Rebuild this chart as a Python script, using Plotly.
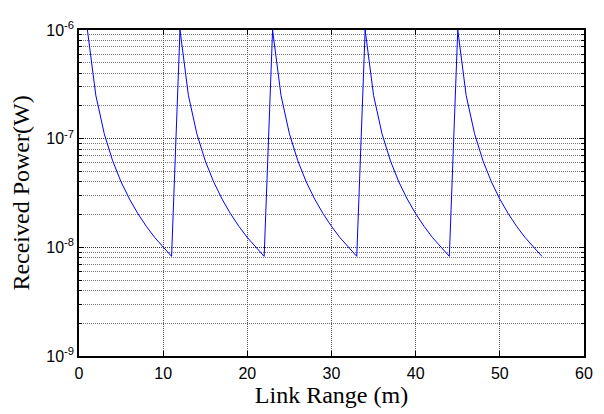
import plotly.graph_objects as go

# Link range (m)
link_range = list(range(1, 56))

# Received power (W): five identical decaying segments
received_power = [
    1.0e-6, 2.5e-7, 1.11e-7, 6.25e-8, 4.0e-8, 2.78e-8, 2.04e-8, 1.56e-8, 1.23e-8, 1.0e-8, 8.26e-9,
    1.0e-6, 2.5e-7, 1.11e-7, 6.25e-8, 4.0e-8, 2.78e-8, 2.04e-8, 1.56e-8, 1.23e-8, 1.0e-8, 8.26e-9,
    1.0e-6, 2.5e-7, 1.11e-7, 6.25e-8, 4.0e-8, 2.78e-8, 2.04e-8, 1.56e-8, 1.23e-8, 1.0e-8, 8.26e-9,
    1.0e-6, 2.5e-7, 1.11e-7, 6.25e-8, 4.0e-8, 2.78e-8, 2.04e-8, 1.56e-8, 1.23e-8, 1.0e-8, 8.26e-9,
    1.0e-6, 2.5e-7, 1.11e-7, 6.25e-8, 4.0e-8, 2.78e-8, 2.04e-8, 1.56e-8, 1.23e-8, 1.0e-8, 8.26e-9,
]

x_ticks = [0, 10, 20, 30, 40, 50, 60]
y_ticks = [1e-9, 1e-8, 1e-7, 1e-6]
y_tick_labels = ["10<sup>-9</sup>", "10<sup>-8</sup>", "10<sup>-7</sup>", "10<sup>-6</sup>"]
y_minor = [m * 10.0 ** e for e in (-9, -8, -7) for m in range(2, 10)]

fig = go.Figure()
fig.add_trace(go.Scatter(
    x=link_range, y=received_power, mode="lines",
    line=dict(color="#0000ff", width=1),
    showlegend=False,
))

tick_font = dict(family="Liberation Sans, Arial, sans-serif", size=16, color="black")
title_font = dict(family="Liberation Serif, Times New Roman, serif", size=24, color="black")

# page body has an 8px margin, so the figure is sized to fit the window
fig.update_layout(
    width=596, height=406,
    margin=dict(l=69, r=11, t=14, b=55),
    paper_bgcolor="white", plot_bgcolor="white",
)

fig.update_xaxes(
    range=[0, 60], tickmode="array", tickvals=x_ticks,
    ticks="inside", ticklen=5, tickcolor="black", tickwidth=1,
    showline=True, linecolor="black", linewidth=1.5, mirror="ticks",
    showgrid=True, gridcolor="#555555", gridwidth=1, griddash="1px,1px",
    zeroline=False, tickfont=tick_font, ticklabelstandoff=2,
    title=dict(text="Link Range (m)", font=title_font, standoff=4),
)

fig.update_yaxes(
    type="log", range=[-9, -6], tickmode="array", tickvals=y_ticks, ticktext=y_tick_labels,
    ticks="inside", ticklen=5, tickcolor="black", tickwidth=1,
    showline=True, linecolor="black", linewidth=1.5, mirror="ticks",
    showgrid=True, gridcolor="#333333", gridwidth=1, griddash="1px,1px",
    minor=dict(tickmode="array", tickvals=y_minor, ticks="inside", ticklen=3,
               tickcolor="black", showgrid=True, gridcolor="#777777",
               griddash="1px,1px", gridwidth=1),
    zeroline=False, tickfont=tick_font,
    title=dict(text="Received Power(W)", font=title_font, standoff=10),
)

fig.write_html("out.html")
